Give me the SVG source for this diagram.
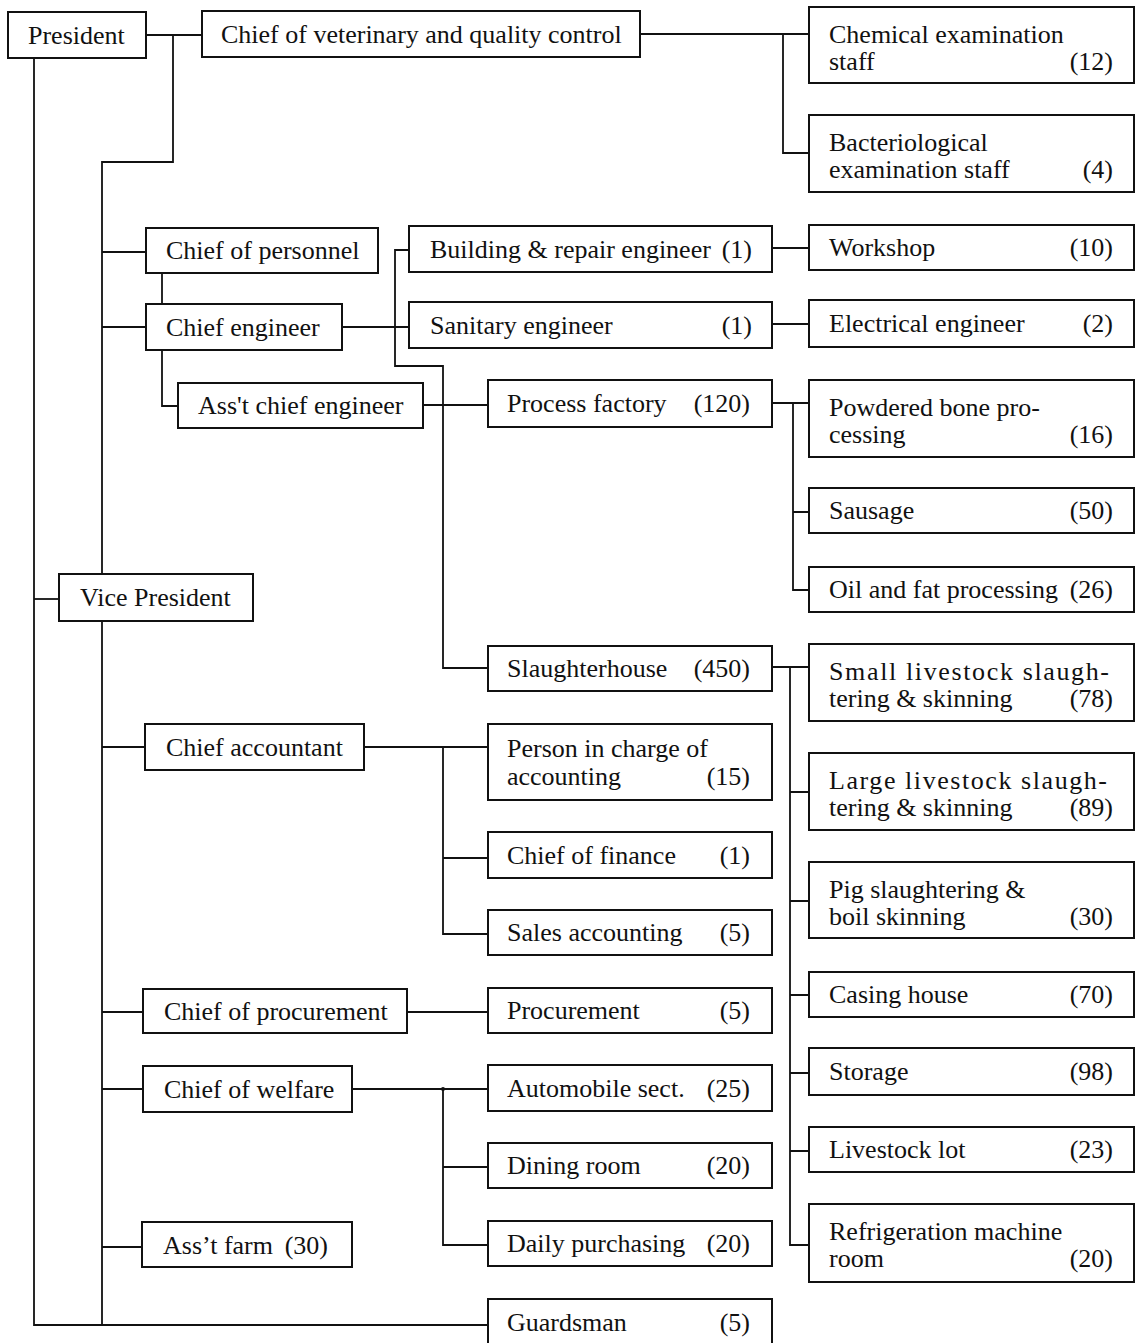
<svg xmlns="http://www.w3.org/2000/svg" width="1135" height="1343" viewBox="0 0 1135 1343">
<style>
.b{fill:#fff;stroke:#111;stroke-width:2}
.t{font-family:"Liberation Serif","Times New Roman",serif;font-size:26px;fill:#111}
.n{text-anchor:end}
.c{fill:none;stroke:#111;stroke-width:1.8}
</style>
<rect width="1135" height="1343" fill="#fff"/>
<g id="connectors" class="c">
<path d="M146,35H202"/>
<path d="M173,35V162H102V1325"/>
<path d="M34,58V1325H488"/>
<path d="M34,599H59"/>
<path d="M102,252H146M102,327H146M102,747H145M102,1012H143M102,1089H143M102,1247H142"/>
<path d="M162,273V304"/>
<path d="M162,350V406H178"/>
<path d="M342,327H409"/>
<path d="M409,250H395V366H443V668H488"/>
<path d="M423,405H488"/>
<path d="M640,34H809M783,34V153H809"/>
<path d="M772,248H809M772,324H809"/>
<path d="M772,403H809M793,403V590H809M793,512H809"/>
<path d="M772,667H809M790,667V1245H809M790,792H809M790,901H809M790,995H809M790,1073H809M790,1151H809"/>
<path d="M364,747H488M443,747V934H488M443,858H488"/>
<path d="M407,1012H488"/>
<path d="M352,1089H488M443,1089V1245H488M443,1167H488"/>
<circle cx="443" cy="1089" r="2" fill="#111" stroke="none"/>
</g>
<g id="president"><rect class="b" x="8" y="12" width="138" height="46"/><text class="t" x="28" y="44">President</text></g>
<g id="chief-vet"><rect class="b" x="202" y="11" width="438" height="46"/><text class="t" x="221" y="43">Chief of veterinary and quality control</text></g>
<g id="chemical"><rect class="b" x="809" y="7" width="325" height="76"/><text class="t" x="829" y="43">Chemical examination</text><text class="t" x="829" y="70">staff</text><text class="t n" x="1113" y="70">(12)</text></g>
<g id="bacteriological"><rect class="b" x="809" y="115" width="325" height="77"/><text class="t" x="829" y="151">Bacteriological</text><text class="t" x="829" y="178">examination staff</text><text class="t n" x="1113" y="178">(4)</text></g>
<g id="chief-personnel"><rect class="b" x="146" y="228" width="232" height="45"/><text class="t" x="166" y="259">Chief of personnel</text></g>
<g id="chief-engineer"><rect class="b" x="146" y="304" width="196" height="46"/><text class="t" x="166" y="336">Chief engineer</text></g>
<g id="asst-chief-engineer"><rect class="b" x="178" y="383" width="245" height="45"/><text class="t" x="198" y="414">Ass't chief engineer</text></g>
<g id="building"><rect class="b" x="409" y="226" width="363" height="46"/><text class="t" x="430" y="258">Building &amp; repair engineer</text><text class="t n" x="752" y="258">(1)</text></g>
<g id="sanitary"><rect class="b" x="409" y="302" width="363" height="46"/><text class="t" x="430" y="334">Sanitary engineer</text><text class="t n" x="752" y="334">(1)</text></g>
<g id="workshop"><rect class="b" x="809" y="225" width="325" height="45"/><text class="t" x="829" y="256">Workshop</text><text class="t n" x="1113" y="256">(10)</text></g>
<g id="electrical"><rect class="b" x="809" y="300" width="325" height="47"/><text class="t" x="829" y="332">Electrical engineer</text><text class="t n" x="1113" y="332">(2)</text></g>
<g id="process-factory"><rect class="b" x="488" y="380" width="284" height="47"/><text class="t" x="507" y="412">Process factory</text><text class="t n" x="750" y="412">(120)</text></g>
<g id="powdered-bone"><rect class="b" x="809" y="380" width="325" height="77"/><text class="t" x="829" y="416">Powdered bone pro-</text><text class="t" x="829" y="443">cessing</text><text class="t n" x="1113" y="443">(16)</text></g>
<g id="sausage"><rect class="b" x="809" y="488" width="325" height="45"/><text class="t" x="829" y="519">Sausage</text><text class="t n" x="1113" y="519">(50)</text></g>
<g id="oil-fat"><rect class="b" x="809" y="567" width="325" height="45"/><text class="t" x="829" y="598">Oil and fat processing</text><text class="t n" x="1113" y="598">(26)</text></g>
<g id="vice-president"><rect class="b" x="59" y="574" width="194" height="47"/><text class="t" x="80" y="606">Vice President</text></g>
<g id="slaughterhouse"><rect class="b" x="488" y="646" width="284" height="45"/><text class="t" x="507" y="677">Slaughterhouse</text><text class="t n" x="750" y="677">(450)</text></g>
<g id="small-livestock"><rect class="b" x="809" y="644" width="325" height="77"/><text class="t" x="829" y="680" textLength="280" lengthAdjust="spacing">Small livestock slaugh-</text><text class="t" x="829" y="707">tering &amp; skinning</text><text class="t n" x="1113" y="707">(78)</text></g>
<g id="chief-accountant"><rect class="b" x="145" y="724" width="219" height="46"/><text class="t" x="166" y="756">Chief accountant</text></g>
<g id="person-accounting"><rect class="b" x="488" y="724" width="284" height="76"/><text class="t" x="507" y="757">Person in charge of</text><text class="t" x="507" y="785">accounting</text><text class="t n" x="750" y="785">(15)</text></g>
<g id="large-livestock"><rect class="b" x="809" y="753" width="325" height="77"/><text class="t" x="829" y="789" textLength="278" lengthAdjust="spacing">Large livestock slaugh-</text><text class="t" x="829" y="816">tering &amp; skinning</text><text class="t n" x="1113" y="816">(89)</text></g>
<g id="chief-finance"><rect class="b" x="488" y="832" width="284" height="46"/><text class="t" x="507" y="864">Chief of finance</text><text class="t n" x="750" y="864">(1)</text></g>
<g id="pig"><rect class="b" x="809" y="862" width="325" height="76"/><text class="t" x="829" y="898">Pig slaughtering &amp;</text><text class="t" x="829" y="925">boil skinning</text><text class="t n" x="1113" y="925">(30)</text></g>
<g id="sales-accounting"><rect class="b" x="488" y="910" width="284" height="45"/><text class="t" x="507" y="941">Sales accounting</text><text class="t n" x="750" y="941">(5)</text></g>
<g id="casing"><rect class="b" x="809" y="972" width="325" height="45"/><text class="t" x="829" y="1003">Casing house</text><text class="t n" x="1113" y="1003">(70)</text></g>
<g id="chief-procurement"><rect class="b" x="143" y="989" width="264" height="44"/><text class="t" x="164" y="1020">Chief of procurement</text></g>
<g id="procurement"><rect class="b" x="488" y="988" width="284" height="45"/><text class="t" x="507" y="1019">Procurement</text><text class="t n" x="750" y="1019">(5)</text></g>
<g id="storage"><rect class="b" x="809" y="1048" width="325" height="47"/><text class="t" x="829" y="1080">Storage</text><text class="t n" x="1113" y="1080">(98)</text></g>
<g id="chief-welfare"><rect class="b" x="143" y="1066" width="209" height="46"/><text class="t" x="164" y="1098">Chief of welfare</text></g>
<g id="automobile"><rect class="b" x="488" y="1065" width="284" height="46"/><text class="t" x="507" y="1097">Automobile sect.</text><text class="t n" x="750" y="1097">(25)</text></g>
<g id="livestock-lot"><rect class="b" x="809" y="1127" width="325" height="45"/><text class="t" x="829" y="1158">Livestock lot</text><text class="t n" x="1113" y="1158">(23)</text></g>
<g id="dining"><rect class="b" x="488" y="1143" width="284" height="45"/><text class="t" x="507" y="1174">Dining room</text><text class="t n" x="750" y="1174">(20)</text></g>
<g id="refrigeration"><rect class="b" x="809" y="1204" width="325" height="78"/><text class="t" x="829" y="1240">Refrigeration machine</text><text class="t" x="829" y="1267">room</text><text class="t n" x="1113" y="1267">(20)</text></g>
<g id="asst-farm"><rect class="b" x="142" y="1222" width="210" height="45"/><text class="t" x="163" y="1254">Ass’t farm</text><text class="t n" x="328" y="1254">(30)</text></g>
<g id="daily-purchasing"><rect class="b" x="488" y="1221" width="284" height="45"/><text class="t" x="507" y="1252">Daily purchasing</text><text class="t n" x="750" y="1252">(20)</text></g>
<g id="guardsman"><rect class="b" x="488" y="1299" width="284" height="50"/><text class="t" x="507" y="1331">Guardsman</text><text class="t n" x="750" y="1331">(5)</text></g>
</svg>
